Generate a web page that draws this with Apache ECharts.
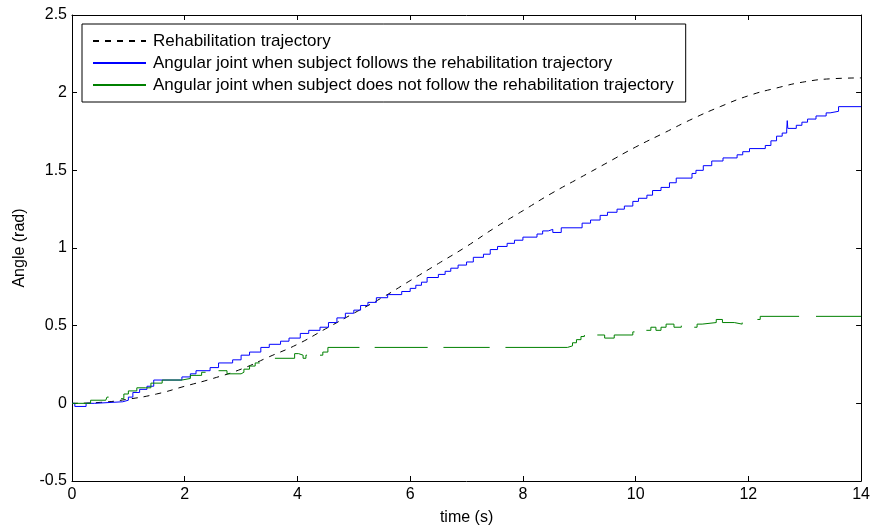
<!DOCTYPE html>
<html>
<head>
<meta charset="utf-8">
<script src="https://cdn.jsdelivr.net/npm/echarts@6/dist/echarts.min.js"></script>
<style>
html,body{margin:0;padding:0;background:#fff;}
#chart{width:873px;height:531px;}
</style>
</head>
<body>
<div id="chart"></div>
<script>
// ---- data ----
var xTicks = [0, 2, 4, 6, 8, 10, 12, 14];
var yTicks = [-0.5, 0, 0.5, 1, 1.5, 2, 2.5];
var seriesNames = [
  'Rehabilitation trajectory',
  'Angular joint when subject follows the rehabilitation trajectory',
  'Angular joint when subject does not follow the rehabilitation trajectory'
];

// reference trajectory [t, angle]
var trajectory = [
  [0,0],[0.5,0.006],[1,0.027],[1.5,0.06],[2,0.11],[2.5,0.16],[3,0.22],[3.5,0.30],
  [4,0.38],[4.5,0.48],[5,0.58],[5.5,0.68],[6,0.79],[6.5,0.90],[7,1.01],[7.5,1.13],
  [8,1.24],[8.5,1.35],[9,1.45],[9.5,1.55],[10,1.65],[10.5,1.74],[11,1.83],[11.5,1.91],
  [12,1.98],[12.5,2.03],[13,2.07],[13.5,2.09],[14,2.095]
];

// subject follows trajectory: staircase [t where value starts, angle]
var follows = [
  [0,0],[0.05,-0.02],[0.25,0.0],[0.4,0.01],[0.9,0.02],[1.0,0.04],[1.08,0.07],[1.2,0.09],
  [1.33,0.11],[1.45,0.15],[1.95,0.17],[2.1,0.19],[2.2,0.21],[2.45,0.23],[2.6,0.26],
  [2.85,0.28],[3.0,0.31],[3.15,0.33],[3.35,0.36],[3.5,0.38],[3.7,0.40],[3.85,0.42],
  [4.05,0.45],[4.2,0.47],[4.4,0.49],[4.55,0.52],[4.7,0.55],[4.85,0.58],[5.0,0.60],
  [5.12,0.63],[5.25,0.65],[5.4,0.68],[5.6,0.70],[5.85,0.72],[6.0,0.74],[6.1,0.76],
  [6.2,0.78],[6.3,0.81],[6.5,0.83],[6.62,0.85],[6.72,0.87],[6.85,0.89],[7.0,0.91],
  [7.12,0.94],[7.3,0.96],[7.42,0.99],[7.55,1.01],[7.72,1.03],[7.85,1.05],[8.0,1.07],
  [8.25,1.09],[8.35,1.11],[8.45,1.12],[8.53,1.10],[8.68,1.13],[9.05,1.16],[9.2,1.18],
  [9.37,1.21],[9.5,1.23],[9.67,1.25],[9.8,1.27],[9.95,1.30],[10.05,1.32],[10.2,1.34],
  [10.3,1.37],[10.45,1.39],[10.6,1.42],[10.72,1.45],[11.0,1.48],[11.07,1.50],[11.2,1.53],
  [11.35,1.56],[11.55,1.58],[11.8,1.60],[11.9,1.62],[12.02,1.64],[12.3,1.66],[12.4,1.69],
  [12.5,1.72],[12.6,1.74],[12.68,1.76],[12.69,1.82],[12.7,1.77],[12.85,1.79],[12.95,1.81],
  [13.05,1.83],[13.2,1.85],[13.38,1.87],[13.45,1.88],[13.6,1.91],[14,1.91]
];

// subject does not follow: staircase with gaps (null = gap)
var notFollows = [
  [0,0],[0.33,0.02],[0.6,0.02],[0.62,0.04],[0.65,0.04], null,
  [0.87,0.03],[0.92,0.06],[1.0,0.08],[1.15,0.10],[1.3,0.10],[1.4,0.13],[1.6,0.15],
  [1.95,0.16],[2.1,0.18],[2.3,0.20],[2.37,0.20], null,
  [2.6,0.21],[2.75,0.19],[3.0,0.20],[3.05,0.22],[3.15,0.24],[3.25,0.26],[3.33,0.26], null,
  [3.6,0.29],[3.95,0.32],[4.02,0.33],[4.05,0.31],[4.1,0.29],[4.15,0.31],[4.17,0.31], null,
  [4.4,0.31],[4.45,0.33],[4.54,0.36],[5.1,0.36], null,
  [5.37,0.36],[6.31,0.36], null,
  [6.59,0.36],[7.41,0.36], null,
  [7.69,0.36],[8.79,0.36],[8.82,0.37],[8.88,0.39],[8.95,0.41],[9.03,0.43],[9.09,0.44],[9.1,0.44], null,
  [9.32,0.44],[9.45,0.42],[9.62,0.44],[9.95,0.46],[9.98,0.46], null,
  [10.19,0.47],[10.27,0.49],[10.36,0.47],[10.45,0.49],[10.54,0.51],[10.68,0.49],[10.81,0.50],[10.82,0.50], null,
  [11.04,0.49],[11.09,0.51],[11.18,0.52],[11.43,0.54],[11.54,0.52],[11.75,0.51],[11.89,0.52],[11.9,0.52], null,
  [12.16,0.54],[12.21,0.56],[12.9,0.56], null,
  [13.2,0.56],[14,0.56]
];

// ---- chart ----
var FONT = 'Liberation Sans, Arial, sans-serif';
var chart = echarts.init(document.getElementById('chart'), null, {renderer: 'canvas'});
var tickStyle = {show: true, inside: true, length: 5, lineStyle: {color: '#000', width: 1}};
var lineAxis = {show: true, onZero: false, lineStyle: {color: '#000', width: 1}};
var xMin = xTicks[0], xMax = xTicks[xTicks.length - 1];
var yMin = yTicks[0], yMax = yTicks[yTicks.length - 1];

chart.setOption({
  animation: false,
  backgroundColor: '#fff',
  grid: {left: 72, right: 11, top: 15, bottom: 48, containLabel: false},
  legend: {
    orient: 'vertical', left: 82, top: 24,
    padding: [7, 12, 7, 10],
    borderColor: '#000', borderWidth: 1, backgroundColor: '#fff',
    itemWidth: 53, itemHeight: 10, itemGap: 2,
    itemStyle: {opacity: 0},
    textStyle: {fontFamily: FONT, fontSize: 17, lineHeight: 20, color: '#000', padding: [0, 0, 0, 2]},
    data: seriesNames
  },
  xAxis: [{
    type: 'value', min: xMin, max: xMax, interval: 2,
    name: 'time (s)', nameLocation: 'middle', nameGap: 29,
    nameTextStyle: {fontFamily: FONT, fontSize: 16, color: '#000'},
    axisLine: lineAxis, axisTick: tickStyle, splitLine: {show: false},
    axisLabel: {fontFamily: FONT, fontSize: 16, color: '#000', margin: 6}
  }, {
    type: 'value', position: 'top', min: xMin, max: xMax, interval: 2,
    axisLine: lineAxis, axisTick: tickStyle, splitLine: {show: false},
    axisLabel: {show: false}
  }],
  yAxis: [{
    type: 'value', min: yMin, max: yMax, interval: 0.5,
    name: 'Angle (rad)', nameLocation: 'middle', nameGap: 44, nameRotate: 90,
    nameTextStyle: {fontFamily: FONT, fontSize: 16, color: '#000'},
    axisLine: lineAxis, axisTick: tickStyle, splitLine: {show: false},
    axisLabel: {fontFamily: FONT, fontSize: 16, color: '#000', margin: 5,
      formatter: function (v) { return String(Math.round(v * 10) / 10); }}
  }, {
    type: 'value', position: 'right', min: yMin, max: yMax, interval: 0.5,
    axisLine: lineAxis, axisTick: tickStyle, splitLine: {show: false},
    axisLabel: {show: false}
  }],
  series: [{
    name: seriesNames[0], type: 'line', data: trajectory, smooth: true,
    symbol: 'none', lineStyle: {color: '#000', width: 1, type: [6, 6]},
    itemStyle: {color: '#000'}
  }, {
    name: seriesNames[1], type: 'line', data: follows, step: 'end',
    symbol: 'none', lineStyle: {color: '#0000ff', width: 1},
    itemStyle: {color: '#0000ff'}
  }, {
    name: seriesNames[2], type: 'line', data: notFollows, step: 'end',
    connectNulls: false,
    symbol: 'none', lineStyle: {color: '#008000', width: 1},
    itemStyle: {color: '#008000'}
  }]
});
</script>
</body>
</html>
